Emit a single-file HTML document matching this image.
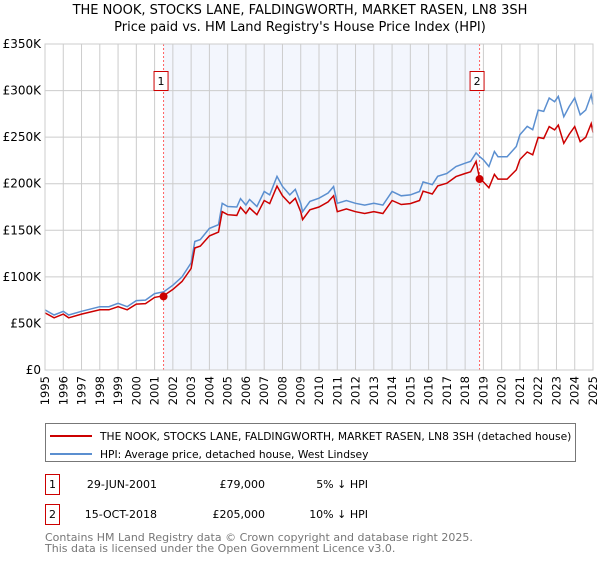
<!DOCTYPE html>
<html><head><meta charset="utf-8"><style>
body{margin:0;background:#fff;width:600px;height:560px;overflow:hidden;font-family:"DejaVu Sans","Liberation Sans",sans-serif}
svg text{font-family:"DejaVu Sans","Liberation Sans",sans-serif}
</style></head><body>
<svg id="c" width="600" height="560" xmlns="http://www.w3.org/2000/svg">
<text x="300" y="14" font-size="13" text-anchor="middle" fill="#000">THE NOOK, STOCKS LANE, FALDINGWORTH, MARKET RASEN, LN8 3SH</text>
<text x="300" y="31" font-size="13" text-anchor="middle" fill="#000">Price paid vs. HM Land Registry's House Price Index (HPI)</text>
<g id="plot"></g>
<rect x="45.5" y="423.5" width="530" height="38" fill="#fff" stroke="#777"/>
<line x1="50" y1="436" x2="92" y2="436" stroke="#cc0000" stroke-width="2"/>
<text x="100" y="440" font-size="10.7">THE NOOK, STOCKS LANE, FALDINGWORTH, MARKET RASEN, LN8 3SH (detached house)</text>
<line x1="50" y1="454" x2="92" y2="454" stroke="#5b8fd0" stroke-width="2"/>
<text x="100" y="458" font-size="10.7">HPI: Average price, detached house, West Lindsey</text>
<g>
<rect x="45.5" y="474.5" width="14" height="20" fill="#fff" stroke="#cc0000"/>
<text x="52.5" y="488" font-size="11" text-anchor="middle">1</text>
<text x="157" y="488" font-size="11" text-anchor="end">29-JUN-2001</text>
<text x="265" y="488" font-size="11" text-anchor="end">£79,000</text>
<text x="368" y="488" font-size="11" text-anchor="end">5% ↓ HPI</text>
</g>
<g>
<rect x="45.5" y="504.5" width="14" height="20" fill="#fff" stroke="#cc0000"/>
<text x="52.5" y="518" font-size="11" text-anchor="middle">2</text>
<text x="157" y="518" font-size="11" text-anchor="end">15-OCT-2018</text>
<text x="265" y="518" font-size="11" text-anchor="end">£205,000</text>
<text x="368" y="518" font-size="11" text-anchor="end">10% ↓ HPI</text>
</g>
<text x="45" y="541" font-size="11" fill="#777">Contains HM Land Registry data © Crown copyright and database right 2025.</text>
<text x="45" y="552" font-size="11" fill="#777">This data is licensed under the Open Government Licence v3.0.</text>
</svg>
<script>
const years=[1995.0,1995.5,1996.0,1996.3,1997.0,1998.0,1998.5,1999.0,1999.5,2000.0,2000.5,2001.0,2001.5,2002.0,2002.5,2003.0,2003.2,2003.5,2004.0,2004.5,2004.7,2005.0,2005.5,2005.7,2006.0,2006.2,2006.6,2007.0,2007.3,2007.7,2008.0,2008.4,2008.7,2009.0,2009.1,2009.5,2010.0,2010.5,2010.8,2011.0,2011.5,2012.0,2012.5,2013.0,2013.5,2014.0,2014.5,2015.0,2015.5,2015.7,2016.2,2016.5,2017.0,2017.5,2018.0,2018.3,2018.6,2018.8,2019.0,2019.3,2019.6,2019.8,2020.3,2020.8,2021.0,2021.4,2021.7,2022.0,2022.3,2022.6,2022.9,2023.1,2023.4,2023.7,2024.0,2024.3,2024.6,2024.9,2025.0];
const hpi=[64.5,59,63,59,63,68,68,71.6,68,74.5,75,82,84,91,100,115,138,140,152,156,179,175.5,175,184,177,183,175.5,191.6,188,207.8,197,188,194,179,170,181,184.5,190,197,179,182,179,177,179,177,191.6,187,188,191.6,202,199,208,211,218.5,222,224,233,229,225.7,218.5,234.6,229,229,240,252.5,261.5,258,279,277.6,292,288,293.7,272,283,292,274,279,295.5,285];
const price=[61.3,56,60,56,60,64.6,64.6,68,64.6,70.8,71.3,77.9,79.8,86.5,95,109,131,133,144,148,170,166.7,166,174.8,168,174,166.7,182,178.6,197.4,187,178.6,184.3,170,161.5,172,175,180.5,187,170,173,170,168,170,168,182,177.7,178.6,182,192,189,197.6,200.5,207.6,211,212.8,224,205,202,195.6,210,205,205,214.8,226,234,231,249.7,248.5,261.3,257.8,262.9,243.4,253.3,261.3,245.2,249.7,264.5,255];
const yTicks=[0,50,100,150,200,250,300,350];
const yTickLabels=["£0","£50K","£100K","£150K","£200K","£250K","£300K","£350K"];
const xTicks=[1995,1996,1997,1998,1999,2000,2001,2002,2003,2004,2005,2006,2007,2008,2009,2010,2011,2012,2013,2014,2015,2016,2017,2018,2019,2020,2021,2022,2023,2024,2025];
const saleDates=[2001.49,2018.79];
const salePrices=[79,205];
const saleLabels=["1","2"];

const X0=45,X1=593,Y0=370,Y1=44;
const xs=v=>X0+(v-1995)/30*(X1-X0);
const ys=v=>Y0-v/350*(Y0-Y1);
const NS="http://www.w3.org/2000/svg";
const g=document.getElementById('plot');
function mk(t,a){const e=document.createElementNS(NS,t);for(const k in a)e.setAttribute(k,a[k]);g.appendChild(e);return e;}
let e=mk('rect',{x:xs(saleDates[0]),y:Y1,width:xs(saleDates[1])-xs(saleDates[0]),height:Y0-Y1,fill:'#f3f6fd'});


xTicks.forEach(t=>{
  let l=mk('line',{x1:xs(t),x2:xs(t),y1:Y1,y2:Y0,stroke:'#ccc'});
  
  
  let tx=mk('text',{x:0,y:0,'font-size':11.5,'text-anchor':'end',transform:`translate(${xs(t)+4},376) rotate(-90)`});
  tx.textContent=t;
  
  
});
yTicks.forEach((t,i)=>{
  let l=mk('line',{x1:X0,x2:X1,y1:ys(t),y2:ys(t),stroke:'#ccc'});
  
  
  let tx=mk('text',{x:41,y:ys(t)+4,'font-size':12,'text-anchor':'end'});
  tx.textContent=yTickLabels[i];
  
  
});
saleDates.forEach((d,i)=>{
  let l=mk('line',{x1:xs(d),x2:xs(d),y1:Y1,y2:Y0,stroke:'#ff6060','stroke-dasharray':'2,2'});
  
  
  let r=mk('rect',{x:xs(d)-9.5,y:71.5,width:14,height:19,fill:'#fff',stroke:'#cc0000'});
  
  
  let tx=mk('text',{x:xs(d)-2.5,y:85,'font-size':11,'text-anchor':'middle'});
  tx.textContent=saleLabels[i];
  
  
});
function path(arr){return arr.map((v,i)=>(i?'L':'M')+xs(years[i]).toFixed(1)+','+ys(v).toFixed(1)).join('');}
let hp=mk('path',{d:path(hpi),fill:'none',stroke:'#5b8fd0','stroke-width':1.5});


let pp=mk('path',{d:path(price),fill:'none',stroke:'#cc0000','stroke-width':1.5});


saleDates.forEach((d,i)=>{
  let c=mk('circle',{cx:xs(d),cy:ys(salePrices[i]),r:4,fill:'#cc0000'});
  
  
});
let fr=mk('rect',{x:X0,y:Y1,width:X1-X0,height:Y0-Y1,fill:'none',stroke:'#ccc'});


</script>
</body></html>
